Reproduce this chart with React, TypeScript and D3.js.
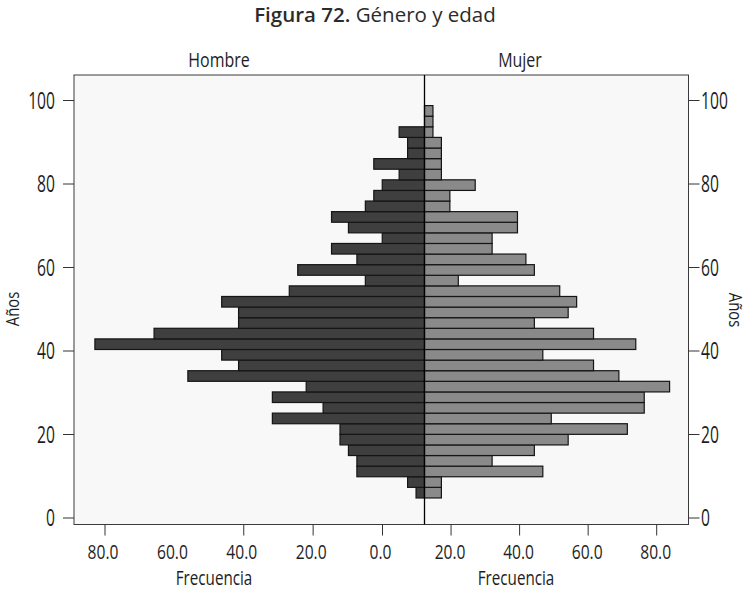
import React from "react";
import * as d3 from "d3";

// Age bin lower edges (years), bin width in years
const ageBinStart = [
  4.8, 7.34, 9.88, 12.42, 14.96, 17.5, 20.04, 22.58, 25.12, 27.66, 30.2, 32.74,
  35.28, 37.82, 40.36, 42.9, 45.44, 47.98, 50.52, 53.06, 55.6, 58.14, 60.68,
  63.22, 65.76, 68.3, 70.84, 73.38, 75.92, 78.46, 81.0, 83.54, 86.08, 88.62,
  91.16, 93.7, 96.24,
];
const binWidth = 2.54;

// Counts per bin, bottom (young) to top (old)
const hombre = [
  1, 2, 8, 8, 9, 10, 10, 18, 12, 18, 14, 28, 22, 24, 39, 32, 22, 22, 24, 16,
  7, 15, 8, 11, 5, 9, 11, 7, 6, 5, 3, 6, 2, 2, 3, 0, 0,
];
const mujer = [
  2, 2, 14, 8, 13, 17, 24, 15, 26, 26, 29, 23, 20, 14, 25, 20, 13, 17, 18, 16,
  4, 13, 12, 8, 8, 11, 11, 3, 3, 6, 2, 2, 2, 2, 1, 1, 1,
];

const yTicks = [0, 20, 40, 60, 80, 100];
const leftTickLabels = [80, 60, 40, 20, 0];
const leftTickMarks = [80, 40, 20, 0];
const rightTicks = [20, 40, 60, 80];

const titleBold = "Figura 72.";
const titleRest = " Género y edad";

const FONT = "'Open Sans', sans-serif";

function CText(props: {
  x: number;
  y: number;
  size: number;
  anchor?: "start" | "middle" | "end";
  rotate?: number;
  sx?: number;
  dy?: string;
  children: React.ReactNode;
}) {
  const { x, y, size, anchor = "middle", rotate = 0, sx = 0.78, dy, children } = props;
  return (
    <text
      transform={`translate(${x},${y}) rotate(${rotate}) scale(${sx},1)`}
      textAnchor={anchor}
      fontFamily={FONT}
      fontSize={size}
      fontWeight={500}
      dy={dy}
      fill="#1e1e1e"
    >
      {children}
    </text>
  );
}

export default function App() {
  const W = 750;
  const H = 592;
  const frame = { left: 74, right: 688.5, top: 75, bottom: 524.5 };
  const cx = 424.5;

  const y = d3.scaleLinear().domain([0, 100]).range([518, 100.5]);
  const barLen = d3.scaleLinear().domain([0, 39]).range([0, 329.6]);
  const axLeft = d3.scaleLinear().domain([0, 80]).range([382.5, 105]);
  const axRight = d3.scaleLinear().domain([0, 80]).range([382.5, 656.7]);

  const bars = ageBinStart.map((a, i) => ({
    y0: y(a + binWidth),
    y1: y(a),
    h: hombre[i],
    m: mujer[i],
  }));

  return (
    <svg
      width={W}
      height={H}
      style={{ position: "absolute", left: 0, top: 0, background: "#fff" }}
    >
      <text
        x={375}
        y={22}
        textAnchor="middle"
        fontFamily={FONT}
        fontSize={20.5}
        fill="#2b2b2b"
      >
        <tspan fontWeight={600}>{titleBold}</tspan>
        <tspan>{titleRest}</tspan>
      </text>

      <CText x={219} y={67} size={20.5}>Hombre</CText>
      <CText x={520} y={67} size={20.5}>Mujer</CText>

      <rect
        x={frame.left}
        y={frame.top}
        width={frame.right - frame.left}
        height={frame.bottom - frame.top}
        fill="#f8f8f8"
        stroke="#3a3a3a"
        strokeWidth={1}
      />

      {bars.map((b, i) =>
        b.h > 0 ? (
          <rect
            key={"h" + i}
            x={cx - barLen(b.h)}
            y={b.y0}
            width={barLen(b.h)}
            height={b.y1 - b.y0}
            fill="#3f3f3f"
            stroke="#151515"
            strokeWidth={1.2}
          />
        ) : null
      )}
      {bars.map((b, i) =>
        b.m > 0 ? (
          <rect
            key={"m" + i}
            x={cx}
            y={b.y0}
            width={barLen(b.m)}
            height={b.y1 - b.y0}
            fill="#8a8a8a"
            stroke="#151515"
            strokeWidth={1.2}
          />
        ) : null
      )}

      <line x1={cx} x2={cx} y1={frame.top} y2={frame.bottom} stroke="#000" strokeWidth={1.3} />

      {/* Y axes */}
      {yTicks.map((t) => (
        <g key={"yt" + t}>
          <line x1={frame.left - 11} x2={frame.left} y1={y(t)} y2={y(t)} stroke="#333" />
          <CText x={55} y={y(t)} dy="0.36em" anchor="end" size={23} sx={0.68}>
            {t}
          </CText>
          <line x1={frame.right} x2={frame.right + 11} y1={y(t)} y2={y(t)} stroke="#333" />
          <CText x={701} y={y(t)} dy="0.36em" anchor="start" size={23} sx={0.68}>
            {t}
          </CText>
        </g>
      ))}
      <CText x={19} y={309} size={19} rotate={-90}>Años</CText>
      <CText x={729} y={310} size={19} rotate={90}>Años</CText>

      {/* X axes */}
      {leftTickMarks.map((t) => (
        <line
          key={"lm" + t}
          x1={axLeft(t)}
          x2={axLeft(t)}
          y1={frame.bottom}
          y2={frame.bottom + 11}
          stroke="#333"
        />
      ))}
      {leftTickLabels.map((t) => (
        <CText key={"ll" + t} x={axLeft(t) - 2} y={559} size={20}>
          {d3.format(".1f")(t)}
        </CText>
      ))}
      {rightTicks.map((t) => (
        <g key={"r" + t}>
          <line
            x1={axRight(t)}
            x2={axRight(t)}
            y1={frame.bottom}
            y2={frame.bottom + 11}
            stroke="#333"
          />
          <CText x={axRight(t) - 1} y={559} size={20}>
            {d3.format(".1f")(t)}
          </CText>
        </g>
      ))}
      <CText x={214} y={585} size={19.5}>Frecuencia</CText>
      <CText x={516} y={585} size={19.5}>Frecuencia</CText>
    </svg>
  );
}
